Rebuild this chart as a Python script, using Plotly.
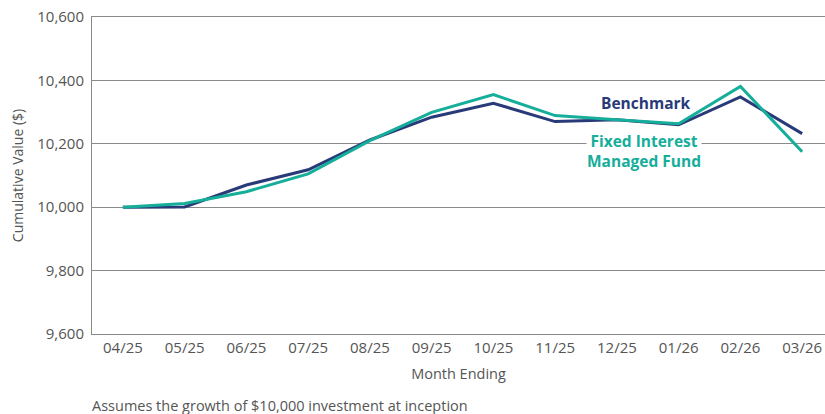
import plotly.graph_objects as go

months = ["04/25", "05/25", "06/25", "07/25", "08/25", "09/25", "10/25",
          "11/25", "12/25", "01/26", "02/26", "03/26"]
benchmark = [10000, 10001, 10070, 10118, 10212, 10284, 10328, 10270, 10276, 10260, 10348, 10232]
fund = [10000, 10012, 10049, 10105, 10210, 10299, 10355, 10289, 10276, 10263, 10381, 10175]

NAVY = "#293A78"
TEAL = "#15AE9A"
GRID = "#8A8A8A"
TXT = "#555555"
FONT = "Open Sans, Lato, sans-serif"

fig = go.Figure()
fig.add_trace(go.Scatter(x=months, y=benchmark, mode="lines", name="Benchmark",
                         line=dict(color=NAVY, width=3)))
fig.add_trace(go.Scatter(x=months, y=fund, mode="lines", name="Fixed Interest Managed Fund",
                         line=dict(color=TEAL, width=3)))

fig.update_layout(
    width=825, height=414,
    margin=dict(l=92, r=0, t=17, b=80),
    plot_bgcolor="white", paper_bgcolor="white",
    showlegend=False,
    font=dict(family=FONT, color=TXT, size=14),
    xaxis=dict(
        type="category", range=[-0.5, 11.37], automargin=False,
        showgrid=False, showline=True, mirror=True, linecolor=GRID, linewidth=1,
        ticks="", tickfont=dict(size=15, color=TXT),
        title=dict(text="Month Ending", font=dict(size=14.5, color=TXT), standoff=12),
    ),
    yaxis=dict(
        range=[9600, 10600], tickvals=[9600, 9800, 10000, 10200, 10400, 10600],
        tickformat=",", automargin=False,
        showgrid=True, gridcolor=GRID, gridwidth=1,
        showline=True, linecolor=GRID, linewidth=1, zeroline=False,
        ticks="", tickfont=dict(size=15, color=TXT), ticklabelstandoff=4,
        title=dict(text="Cumulative Value ($)", font=dict(size=14, color=TXT), standoff=10),
    ),
    annotations=[
        dict(x=8.47, y=10328, xref="x", yref="y", text="<b>Benchmark</b>",
             showarrow=False, font=dict(size=15.5, color=NAVY, family=FONT)),
        dict(x=8.44, y=10177, xref="x", yref="y",
             text="<b>Fixed Interest<br>Managed Fund</b>",
             showarrow=False, bgcolor="white", borderpad=0,
             font=dict(size=15.5, color=TEAL, family=FONT)),
        dict(x=0, y=0, xref="paper", yref="paper", xanchor="left", yanchor="top",
             xshift=-2, yshift=-60,
             text="Assumes the growth of $10,000 investment at inception",
             showarrow=False, font=dict(size=14.5, color=TXT, family=FONT)),
    ],
)

# remove the default 8px page margin so the 825x414 figure fills the window exactly
fig.write_html("out.html",
               config={"displayModeBar": False},
               post_script="document.body.style.margin='0px';document.body.style.overflow='hidden';")
